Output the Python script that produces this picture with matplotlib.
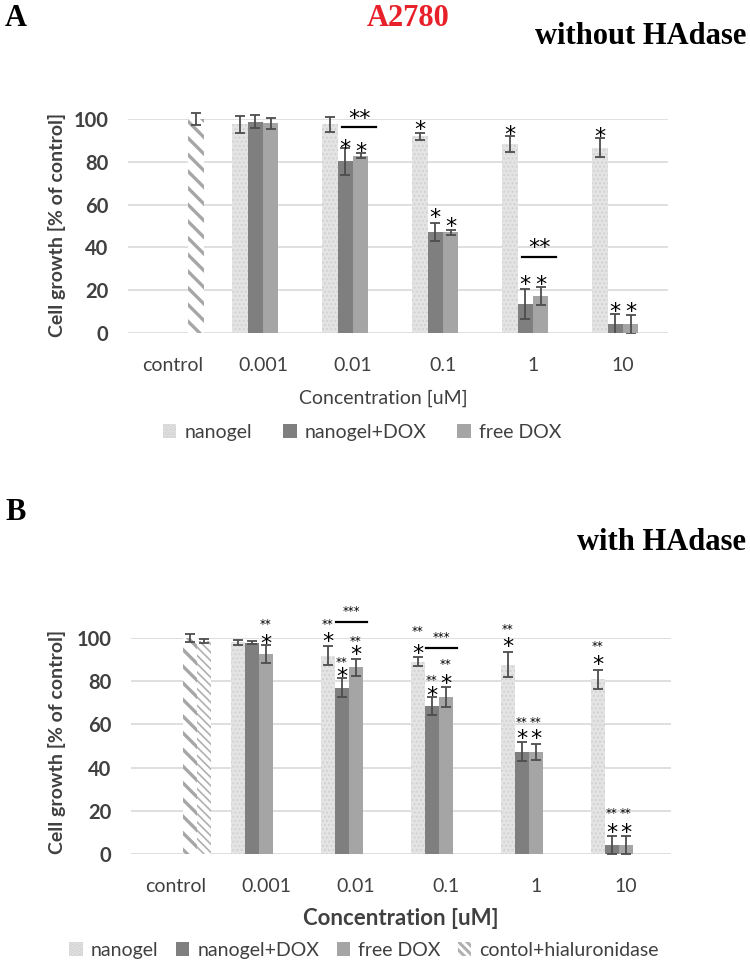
import numpy as np
import matplotlib
matplotlib.use("Agg")
import matplotlib.pyplot as plt
from matplotlib.patches import Patch, Rectangle

plt.rcParams['font.family'] = ['Lato', 'DejaVu Sans']
plt.rcParams['hatch.linewidth'] = 2.2

categories = ['control', '0.001', '0.01', '0.1', '1', '10']
nan = np.nan

# panel A - without HAdase
nano_A = [nan, 97.5, 97.5, 92.0, 88.2, 86.6]
nano_A_err = [nan, 3.9, 3.6, 1.6, 3.7, 4.3]
dox_A = [nan, 98.8, 80.2, 47.4, 13.5, 4.0]
dox_A_err = [nan, 3.0, 6.4, 4.2, 7.0, 5.0]
free_A = [nan, 98.0, 82.9, 47.0, 17.3, 4.0]
free_A_err = [nan, 2.5, 1.0, 1.0, 4.3, 4.5]
ctrl_A = [100.0, nan, nan, nan, nan, nan]
ctrl_A_err = [3.0, nan, nan, nan, nan, nan]

# panel B - with HAdase
nano_B = [nan, 98.0, 91.8, 89.1, 87.6, 80.9]
nano_B_err = [nan, 1.1, 4.5, 1.9, 5.7, 4.4]
dox_B = [nan, 97.8, 77.0, 68.5, 47.3, 4.3]
dox_B_err = [nan, 0.7, 4.3, 4.3, 4.4, 4.2]
free_B = [nan, 92.7, 86.5, 72.6, 47.3, 4.3]
free_B_err = [nan, 4.2, 3.9, 4.5, 3.7, 4.2]
ctrl_B = [100.0, nan, nan, nan, nan, nan]
ctrl_B_err = [2.0, nan, nan, nan, nan, nan]
hial_B = [98.5, nan, nan, nan, nan, nan]
hial_B_err = [1.0, nan, nan, nan, nan, nan]

# significance marks: (series, category index, height, text)
stars_A = [('dox', 2, 89.4, '*'), ('free', 2, 87.9, '*'),
           ('nano', 3, 98.0, '*'), ('dox', 3, 56.8, '*'), ('free', 3, 52.6, '*'),
           ('nano', 4, 95.6, '*'), ('dox', 4, 25.7, '*'), ('free', 4, 25.7, '*'),
           ('nano', 5, 94.9, '*'), ('dox', 5, 13.2, '*'), ('free', 5, 13.2, '*')]
brackets_A = [(2, 96.4, 103.0, '**'), (4, 35.5, 42.8, '**')]

stars_B = [('free', 1, 100.5, '*'), ('nano', 2, 101.5, '*'), ('dox', 2, 85.3, '*'),
           ('free', 2, 95.3, '*'), ('nano', 3, 95.8, '*'), ('dox', 3, 76.3, '*'),
           ('free', 3, 81.9, '*'), ('nano', 4, 98.9, '*'), ('dox', 4, 56.6, '*'),
           ('free', 4, 56.6, '*'), ('nano', 5, 90.7, '*'), ('dox', 5, 12.7, '*'),
           ('free', 5, 12.7, '*')]
small_B = [('free', 1, 108.0, '**'), ('nano', 2, 108.0, '**'), ('dox', 2, 90.0, '**'),
           ('free', 2, 100.0, '**'), ('nano', 3, 104.5, '**'), ('dox', 3, 81.9, '**'),
           ('free', 3, 89.1, '**'), ('nano', 4, 105.4, '**'), ('dox', 4, 62.3, '**'),
           ('free', 4, 62.3, '**'), ('nano', 5, 97.7, '**'), ('dox', 5, 20.5, '**'),
           ('free', 5, 20.5, '**')]
brackets_B = [(2, 107.6, 114.0, '***'), (3, 95.3, 101.9, '***')]

TXT = '#404040'
GRID = '#d9d9d9'
styles = {
    'nano': dict(color='#e4e4e4', edgecolor='#d2d2d2', hatch='....'),
    'dox': dict(color='#7f7f7f', edgecolor='#7f7f7f', hatch=None),
    'free': dict(color='#a5a5a5', edgecolor='#a5a5a5', hatch=None),
    'ctrl': dict(color='white', edgecolor='#a6a6a6', hatch='\\\\'),
    'hial': dict(color='white', edgecolor='#b0b0b0', hatch='\\\\\\\\'),
}


def draw_bars(ax, x, vals, errs, key, w, hlw):
    vals = np.array(vals, dtype=float)
    errs = np.array(errs, dtype=float)
    ok = np.isfinite(vals)
    st = styles[key]
    bars = ax.bar(x[ok], vals[ok], w, color=st['color'], edgecolor=st['edgecolor'],
                  hatch=st['hatch'], linewidth=0, zorder=2)
    for b in bars:
        try:
            b.set_hatch_linewidth(hlw)
        except AttributeError:
            pass
    eb = ax.errorbar(x[ok], vals[ok], yerr=errs[ok], fmt='none', ecolor='#4d4d4d',
                     elinewidth=1.3, capsize=3.5, capthick=1.3, zorder=3, clip_on=True)
    # error bars may rise above the top gridline but stop at the zero line
    clip = Rectangle((-1, 0), 10, 200, transform=ax.transData)
    for art in eb.lines[1] + eb.lines[2]:
        art.set_clip_path(clip)


def star(ax, x, y, s, size):
    ax.annotate(s, (x, y), xytext=(0, -0.58 * size), textcoords='offset points',
                ha='center', va='baseline', fontsize=size, color='black',
                family='DejaVu Sans', annotation_clip=False)


def style_axis(ax):
    ax.set_xlim(-0.5, len(categories) - 0.5)
    ax.set_ylim(0, 100)
    ax.set_yticks([0, 20, 40, 60, 80, 100])
    ax.yaxis.grid(True, color=GRID, linewidth=1.2, zorder=0)
    ax.set_axisbelow(True)
    for s in ax.spines.values():
        s.set_visible(False)
    ax.set_xticks(np.arange(len(categories)))
    ax.set_xticklabels(categories)
    ax.tick_params(axis='x', length=0, pad=17, labelsize=14, labelcolor=TXT)
    ax.tick_params(axis='y', length=0, pad=14, labelsize=14.5, labelcolor=TXT)
    for t in ax.get_yticklabels():
        t.set_fontweight('bold')


fig = plt.figure(figsize=(7.5, 9.63), dpi=100)

# ---------------- panel A ----------------
axA = fig.add_axes([128 / 750, 1 - 333 / 963, 540 / 750, 214 / 963])
x = np.arange(len(categories))
wA = 0.172
posA = {'nano': x - 1.5 * wA, 'dox': x - 0.5 * wA, 'free': x + 0.5 * wA, 'ctrl': x + 1.5 * wA}
draw_bars(axA, posA['nano'], nano_A, nano_A_err, 'nano', wA, 1.0)
draw_bars(axA, posA['dox'], dox_A, dox_A_err, 'dox', wA, 1.0)
draw_bars(axA, posA['free'], free_A, free_A_err, 'free', wA, 1.0)
draw_bars(axA, posA['ctrl'], ctrl_A, ctrl_A_err, 'ctrl', wA, 2.4)
style_axis(axA)

for key, i, y, s in stars_A:
    star(axA, posA[key][i], y, s, 16)
for i, yb, yt, s in brackets_A:
    x0 = posA['dox'][i] - 0.2 * wA
    x1 = posA['free'][i] + 1.0 * wA
    axA.plot([x0, x1], [yb, yb], color='black', lw=1.6, clip_on=False, zorder=4)
    star(axA, (x0 + x1) / 2, yt, s, 16)

fig.text(57 / 750, 1 - 225 / 963, 'Cell growth [% of control]', rotation=90,
         ha='center', va='center', fontsize=14, fontweight='bold', color=TXT)
fig.text(383 / 750, 1 - 398 / 963, 'Concentration [uM]', ha='center', va='center',
         fontsize=14, color=TXT)
legA = [Patch(facecolor=styles[k]['color'], edgecolor=styles[k]['edgecolor'],
              hatch=styles[k]['hatch'], linewidth=0, label=l)
        for k, l in [('nano', 'nanogel'), ('dox', 'nanogel+DOX'), ('free', 'free DOX')]]
fig.legend(handles=legA, loc='center', bbox_to_anchor=(362 / 750, 1 - 432 / 963), ncol=3,
           frameon=False, fontsize=14, handlelength=0.7, handleheight=0.7,
           handletextpad=0.4, columnspacing=1.6, labelcolor=TXT)

fig.text(5 / 750, 1 - 18 / 963, 'A', ha='left', va='center', fontsize=22,
         fontweight='bold', family='Liberation Serif', color='black')
fig.text(408 / 750, 1 - 18 / 963, 'A2780', ha='center', va='center', fontsize=22,
         fontweight='bold', family='Liberation Serif', color='#e8202a')
fig.text(746 / 750, 1 - 37 / 963, 'without HAdase', ha='right', va='center', fontsize=22,
         fontweight='bold', family='Liberation Serif', color='black')

# ---------------- panel B ----------------
axB = fig.add_axes([131 / 750, 1 - 854 / 963, 540 / 750, 216 / 963])
wB = 0.156
posB = {'nano': x - 2 * wB, 'dox': x - wB, 'free': x, 'ctrl': x + wB, 'hial': x + 2 * wB}
draw_bars(axB, posB['nano'], nano_B, nano_B_err, 'nano', wB, 1.0)
draw_bars(axB, posB['dox'], dox_B, dox_B_err, 'dox', wB, 1.0)
draw_bars(axB, posB['free'], free_B, free_B_err, 'free', wB, 1.0)
draw_bars(axB, posB['ctrl'], ctrl_B, ctrl_B_err, 'ctrl', wB, 2.4)
draw_bars(axB, posB['hial'], hial_B, hial_B_err, 'hial', wB, 1.2)
style_axis(axB)

for key, i, y, s in stars_B:
    star(axB, posB[key][i], y, s, 16)
for key, i, y, s in small_B:
    star(axB, posB[key][i], y, s, 8.5)
for i, yb, yt, s in brackets_B:
    x0 = posB['dox'][i] - 0.4 * wB
    x1 = posB['free'][i] + 0.8 * wB
    axB.plot([x0, x1], [yb, yb], color='black', lw=1.6, clip_on=False, zorder=4)
    star(axB, (x0 + x1) / 2, yt, s, 8.5)

fig.text(57 / 750, 1 - 742 / 963, 'Cell growth [% of control]', rotation=90,
         ha='center', va='center', fontsize=14, fontweight='bold', color=TXT)
fig.text(401 / 750, 1 - 918 / 963, 'Concentration [uM]', ha='center', va='center',
         fontsize=16, fontweight='bold', color=TXT)
legB = [Patch(facecolor=styles[k]['color'], edgecolor=styles[k]['edgecolor'],
              hatch=styles[k]['hatch'], linewidth=0, label=l)
        for k, l in [('nano', 'nanogel'), ('dox', 'nanogel+DOX'), ('free', 'free DOX'),
                     ('hial', 'contol+hialuronidase')]]
fig.legend(handles=legB, loc='center', bbox_to_anchor=(364 / 750, 1 - 950 / 963), ncol=4,
           frameon=False, fontsize=14, handlelength=0.7, handleheight=0.7,
           handletextpad=0.4, columnspacing=0.9, labelcolor=TXT)

fig.text(5 / 750, 1 - 512 / 963, 'B', ha='left', va='center', fontsize=22,
         fontweight='bold', family='Liberation Serif', color='black')
fig.text(746 / 750, 1 - 542 / 963, 'with HAdase', ha='right', va='center', fontsize=22,
         fontweight='bold', family='Liberation Serif', color='black')

fig.savefig('out.png', dpi=100)
